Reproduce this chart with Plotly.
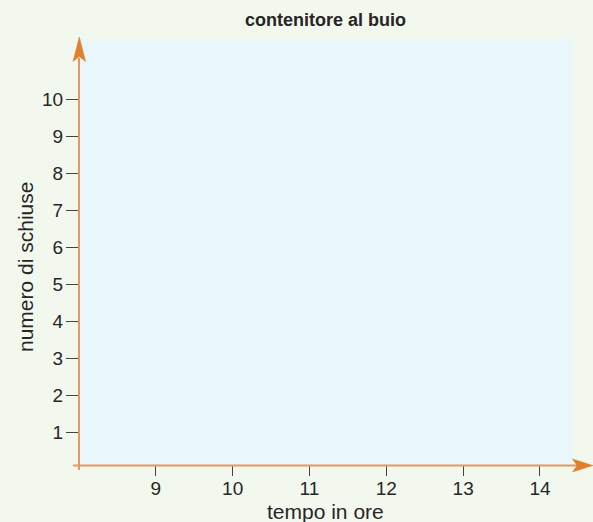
import plotly.graph_objects as go

# ---- chart content ----
chart_title = "contenitore al buio"
x_title = "tempo in ore"
y_title = "numero di schiuse"
x_ticks = [9, 10, 11, 12, 13, 14]
y_ticks = [1, 2, 3, 4, 5, 6, 7, 8, 9, 10]
x_range = [8.0, 14.43]
y_range = [0.13, 11.62]

# ---- styling ----
W, H = 593, 522
L, R, T, B = 79, 20, 39, 57
PW, PH = W - L - R, H - T - B
BG = "#f3f8ee"
PLOT_BG = "#e9f6fc"
AXIS_LINE = "#e8965a"
ARROW = "#e07f2e"
TEXT = "#262626"
FONT = "Liberation Sans, Arial, sans-serif"


def px(x):
    return (x - L) / PW


def py(y):
    return (H - B - y) / PH


fig = go.Figure()
fig.add_trace(go.Scatter(x=[], y=[], mode="markers", showlegend=False))

fig.update_layout(
    width=W, height=H,
    margin=dict(l=L, r=R, t=T, b=B, pad=0),
    paper_bgcolor=BG, plot_bgcolor=PLOT_BG,
    font=dict(family=FONT, color=TEXT, size=19),
    showlegend=False,
    xaxis=dict(range=x_range, tickvals=x_ticks, ticktext=[str(v) for v in x_ticks],
               showgrid=False, zeroline=False, showline=False,
               ticks="outside", ticklen=10, tickwidth=1, tickcolor="#444",
               ticklabelstandoff=-4,
               tickfont=dict(size=19, color=TEXT), fixedrange=True),
    yaxis=dict(range=y_range, tickvals=y_ticks, ticktext=[str(v) for v in y_ticks],
               showgrid=False, zeroline=False, showline=False,
               ticks="outside", ticklen=12, tickwidth=1, tickcolor="#444",
               ticklabelstandoff=-1,
               tickfont=dict(size=19, color=TEXT), fixedrange=True),
)

shapes = []
# y axis line (extends slightly below x axis)
shapes.append(dict(type="line", xref="paper", yref="paper",
                   x0=px(79), x1=px(79), y0=py(470), y1=py(58),
                   line=dict(color=AXIS_LINE, width=2)))
# x axis line (extends slightly left of y axis)
shapes.append(dict(type="line", xref="paper", yref="paper",
                   x0=px(73), x1=px(578), y0=py(465.5), y1=py(465.5),
                   line=dict(color=AXIS_LINE, width=2)))
# up arrow head
pts = [(79.3, 37), (73, 61.5), (79.3, 56.5), (85.6, 61.5)]
shapes.append(dict(type="path", xref="paper", yref="paper",
                   path="M " + " L ".join(f"{px(a)},{py(b)}" for a, b in pts) + " Z",
                   fillcolor=ARROW, line=dict(color=ARROW, width=0.5)))
# right arrow head
pts = [(593, 465.5), (572.5, 459), (577, 465.5), (572.5, 472)]
shapes.append(dict(type="path", xref="paper", yref="paper",
                   path="M " + " L ".join(f"{px(a)},{py(b)}" for a, b in pts) + " Z",
                   fillcolor=ARROW, line=dict(color=ARROW, width=0.5)))
fig.update_layout(shapes=shapes)

fig.add_annotation(text=f"<b>{chart_title}</b>", xref="paper", yref="paper",
                   x=px(325.5), y=py(20), showarrow=False,
                   xanchor="center", yanchor="middle",
                   font=dict(size=18, color=TEXT, family=FONT))
fig.add_annotation(text=x_title, xref="paper", yref="paper",
                   x=px(325), y=py(512), showarrow=False,
                   xanchor="center", yanchor="middle",
                   font=dict(size=21, color=TEXT, family=FONT))
fig.add_annotation(text=y_title, xref="paper", yref="paper",
                   x=px(25), y=py(267), showarrow=False, textangle=-90,
                   xanchor="center", yanchor="middle",
                   font=dict(size=21, color=TEXT, family=FONT))

fig.write_html("out.html",
               config={"displayModeBar": False},
               post_script="document.body.style.margin='0';document.body.style.overflow='hidden';")
